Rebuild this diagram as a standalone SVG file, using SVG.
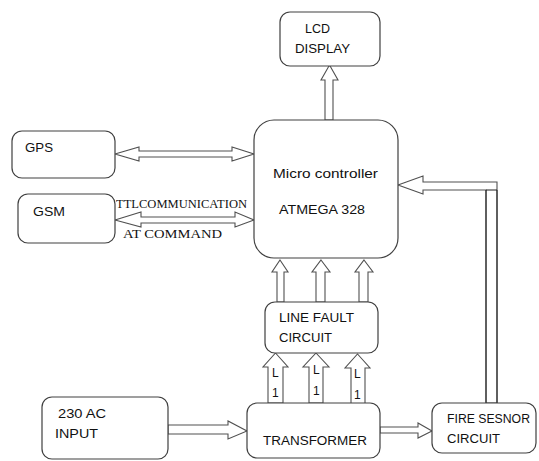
<svg xmlns="http://www.w3.org/2000/svg" width="539" height="461" viewBox="0 0 539 461">
<style>
.box{fill:#fff;stroke:#404040;stroke-width:1.2}
.arr{fill:#fff;stroke:#505050;stroke-width:1.1;stroke-linejoin:miter}
.t{font-family:"Liberation Sans",Arial,sans-serif;font-size:12px;fill:#111}
.s{font-family:"Liberation Serif","Times New Roman",serif;font-size:12px;fill:#111}
</style>
<rect width="539" height="461" fill="#fff"/>
<g id="connectors">
<polygon class="arr" points="329.5,65 338,80 333,80 333,120 325,120 325,80 321,80"/>
<polygon class="arr" points="115,154 139,147 139,151 232,151 232,147 254,154 232,161 232,157 139,157 139,161"/>
<polygon class="arr" points="115,220 141,212 141,217 235,217 235,212 254,220 235,227 235,223 141,223 141,227"/>
<polygon class="arr" points="280,260 288,272 284,272 284,302 277,302 277,272 272,272"/>
<polygon class="arr" points="321,260 330,272 325,272 325,302 316,302 316,272 312,272"/>
<polygon class="arr" points="364,260 373,272 368,272 368,302 359,302 359,272 355,272"/>
<polygon class="arr" points="275.5,353 288,367 283,367 283,403 268,403 268,367 263,367"/>
<polygon class="arr" points="316,353 329,367 323,367 323,403 309,403 309,367 303,367"/>
<polygon class="arr" points="357.5,354 370,368 365,368 365,404 351,404 351,368 345,368"/>
<polygon class="arr" points="168,425 228,425 228,421 247,431 228,439 228,434 168,434"/>
<polygon class="arr" points="380,427 418,427 418,423 432,431 418,438 418,433 380,433"/>
<polygon class="arr" points="398,185 423,176 423,182 497,182 497,403 486,403 486,190 423,190 423,194"/>
<line x1="486" y1="190" x2="497" y2="190" stroke="#202020" stroke-width="1"/>
<line x1="486" y1="190" x2="486" y2="403" stroke="#202020" stroke-width="1"/>
<line x1="497" y1="190" x2="497" y2="403" stroke="#202020" stroke-width="1"/>
<text class="s" x="116" y="208" textLength="131" lengthAdjust="spacingAndGlyphs">TTLCOMMUNICATION</text>
<text class="s" x="123" y="238" textLength="99" lengthAdjust="spacingAndGlyphs" font-size="13">AT COMMAND</text>
<text class="t" x="272" y="377">L</text><text class="t" x="272" y="397">1</text>
<text class="t" x="313" y="374">L</text><text class="t" x="313" y="395">1</text>
<text class="t" x="354" y="378">L</text><text class="t" x="354" y="399">1</text>
</g>
<g id="lcd">
<rect class="box" x="280" y="12" width="100" height="54" rx="10"/>
<text class="t" x="305" y="33" textLength="25" lengthAdjust="spacingAndGlyphs">LCD</text>
<text class="t" x="295" y="53" textLength="55" lengthAdjust="spacingAndGlyphs">DISPLAY</text>
</g>
<g id="gps">
<rect class="box" x="12" y="131" width="103" height="47" rx="10"/>
<text class="t" x="25" y="152" textLength="28" lengthAdjust="spacingAndGlyphs">GPS</text>
</g>
<g id="gsm">
<rect class="box" x="18" y="194" width="97" height="49" rx="10"/>
<text class="t" x="33" y="216" textLength="32" lengthAdjust="spacingAndGlyphs">GSM</text>
</g>
<g id="micro">
<rect class="box" x="254" y="120" width="144" height="138" rx="20"/>
<text class="t" x="273" y="178" textLength="105" lengthAdjust="spacingAndGlyphs" font-size="13">Micro controller</text>
<text class="t" x="279" y="214" textLength="86" lengthAdjust="spacingAndGlyphs" font-size="13">ATMEGA 328</text>
</g>
<g id="linefault">
<rect class="box" x="265" y="302" width="113" height="51" rx="10"/>
<text class="t" x="279" y="322" textLength="75" lengthAdjust="spacingAndGlyphs">LINE FAULT</text>
<text class="t" x="279" y="342" textLength="53" lengthAdjust="spacingAndGlyphs">CIRCUIT</text>
</g>
<g id="acinput">
<rect class="box" x="42" y="397" width="126" height="62" rx="10"/>
<text class="t" x="58" y="418" textLength="48" lengthAdjust="spacingAndGlyphs">230  AC</text>
<text class="t" x="55" y="438" textLength="43" lengthAdjust="spacingAndGlyphs">INPUT</text>
</g>
<g id="transformer">
<rect class="box" x="247" y="403" width="133" height="55" rx="10"/>
<text class="t" x="263" y="445" textLength="104" lengthAdjust="spacingAndGlyphs">TRANSFORMER</text>
</g>
<g id="firesensor">
<rect class="box" x="432" y="403" width="104" height="50" rx="10"/>
<text class="t" x="447" y="423" textLength="83" lengthAdjust="spacingAndGlyphs">FIRE SESNOR</text>
<text class="t" x="447" y="443" textLength="53" lengthAdjust="spacingAndGlyphs">CIRCUIT</text>
</g>
</svg>
